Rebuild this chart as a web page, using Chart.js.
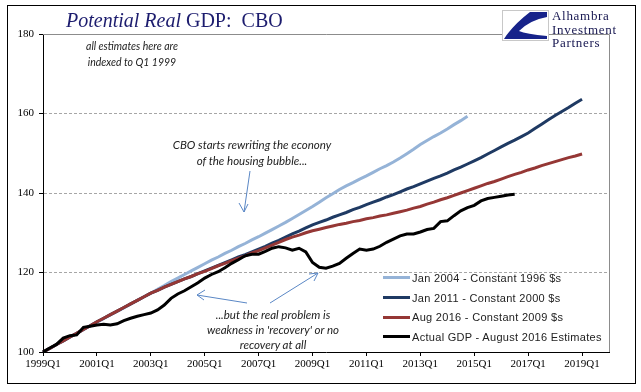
<!DOCTYPE html>
<html>
<head>
<meta charset="utf-8">
<script src="https://cdn.jsdelivr.net/npm/chart.js@4/dist/chart.umd.min.js"></script>
<style>
  body { margin:0; background:#fff; }
  #wrap { position:relative; width:641px; height:392px; overflow:hidden; }
  #chart { position:absolute; left:0; top:0; }
  .frame { position:absolute; left:7px; top:5px; width:627px; height:377px; border:1px solid #000; pointer-events:none; }
  .title { position:absolute; left:66px; top:9px; font:20px "Liberation Serif", serif; color:#1c1c6e; white-space:nowrap; }
  .title i { margin-right:5px; }
  .note { position:absolute; font-family:Lato, sans-serif; font-style:italic; color:#222; text-align:center; white-space:nowrap; }
  .logo-text { position:absolute; left:552px; top:9px; font:13px "Liberation Serif", serif; letter-spacing:0.7px; line-height:13.5px; color:#161650; }
  .legend { position:absolute; left:383px; top:268px; font:11px "Liberation Sans", Arial, sans-serif; color:#222; letter-spacing:0.3px; }
  .legend .row { height:19.7px; display:flex; align-items:center; white-space:nowrap; }
  .legend .sw { width:27px; height:3px; margin-right:2px; }
  svg { position:absolute; left:0; top:0; }
</style>
</head>
<body>
<div id="wrap">
  <canvas id="chart" width="641" height="392"></canvas>
  <svg width="641" height="392">
    <!-- logo -->
    <rect x="502.5" y="10.5" width="46" height="30" fill="#fff" stroke="#c8c8c8"/>
    <path d="M547,12 L530,12 Q513,25 504,39 L547,39 L547,36 Q526,34 519,31 Q530,20 547,17 Z" fill="#17238a"/>
    <!-- arrows -->
    <g stroke="#5a87c5" stroke-width="1" fill="none">
      <line x1="250" y1="171" x2="244" y2="212"/>
      <polyline points="239,203 244,212 248,204"/>
      <line x1="247" y1="303" x2="197" y2="295"/>
      <polyline points="205,290 197,295 204,300"/>
      <line x1="270" y1="303" x2="318" y2="273"/>
      <polyline points="309,274 318,273 314,281"/>
    </g>
  </svg>
  <div class="frame"></div>
  <div class="title"><i>Potential Real</i>GDP:&nbsp; CBO</div>
  <div class="logo-text">Alhambra<br>Investment<br>Partners</div>
  <div class="note" style="left:72px; top:38px; width:120px; font-size:10.5px; line-height:16px;">all estimates here are<br>indexed to Q1 1999</div>
  <div class="note" style="left:152px; top:137px; width:200px; font-size:11.5px; line-height:16px;">CBO starts rewriting the econony<br>of the housing bubble...</div>
  <div class="note" style="left:173px; top:307px; width:200px; font-size:11.5px; line-height:15px;">...but the real problem is<br>weakness in 'recovery' or no<br>recovery at all</div>
  <div class="legend" id="legend"></div>
</div>
<script>
// quarters 1999Q1 .. 2020Q1
const quarters = [];
for (let y = 1999; y <= 2020; y++) for (let q = 1; q <= 4; q++) quarters.push(y + 'Q' + q);
quarters.length = 85;

const seriesNames = [
  'Jan 2004 - Constant 1996 $s',
  'Jan 2011 - Constant 2000 $s',
  'Aug 2016 - Constant 2009 $s',
  'Actual GDP - August 2016 Estimates'
];
const seriesColors = ['#95b3d7', '#1f3a63', '#953735', '#000000'];

const cbo2004 = [
  100, 100.9, 101.9, 102.8, 103.7, 104.7, 105.6, 106.6, 107.5, 108.4, 109.3, 110.2, 111.1,
  112.0, 113.0, 113.9, 114.8, 115.8, 116.7, 117.7, 118.6, 119.5, 120.4, 121.3, 122.2,
  123.1, 123.9, 124.8, 125.6, 126.5, 127.3, 128.2, 129.0, 129.9, 130.8, 131.7, 132.6,
  133.6, 134.6, 135.6, 136.6, 137.7, 138.8, 139.8, 140.9, 141.8, 142.6, 143.5, 144.3,
  145.2, 146.1, 146.9, 147.8, 148.8, 149.9, 151.0, 152.2, 153.2, 154.2, 155.1, 156.1,
  157.2, 158.2, 159.3
];
const cbo2011 = [
  100, 100.9, 101.9, 102.8, 103.8, 104.7, 105.7, 106.6, 107.6, 108.5, 109.4, 110.3, 111.2,
  112.1, 113.0, 113.9, 114.8, 115.5, 116.3, 117.0, 117.7, 118.4, 119.0, 119.7, 120.4,
  121.1, 121.8, 122.5, 123.2, 123.9, 124.5, 125.2, 125.9, 126.6, 127.4, 128.1, 128.9,
  129.7, 130.4, 131.2, 132.0, 132.6, 133.2, 133.9, 134.5, 135.1, 135.8, 136.4, 137.1,
  137.7, 138.3, 139.0, 139.6, 140.3, 141.0, 141.6, 142.3, 143.0, 143.7, 144.3, 145.0,
  145.8, 146.5, 147.3, 148.1, 148.9, 149.8, 150.7, 151.6, 152.5, 153.3, 154.2, 155.1,
  156.2, 157.3, 158.4, 159.5, 160.5, 161.5, 162.6, 163.6
];
const cbo2016 = [
  100, 100.9, 101.9, 102.8, 103.8, 104.7, 105.7, 106.6, 107.6, 108.5, 109.4, 110.3, 111.2,
  112.1, 113.0, 113.9, 114.8, 115.5, 116.3, 117.0, 117.7, 118.4, 119.0, 119.7, 120.3,
  121.0, 121.7, 122.3, 123.0, 123.6, 124.2, 124.9, 125.5, 126.2, 126.9, 127.6, 128.3,
  128.9, 129.4, 130.0, 130.5, 130.9, 131.3, 131.7, 132.1, 132.4, 132.8, 133.1, 133.5,
  133.8, 134.2, 134.5, 134.9, 135.3, 135.7, 136.2, 136.6, 137.2, 137.7, 138.3, 138.8,
  139.4, 140.0, 140.6, 141.2, 141.8, 142.4, 142.9, 143.5, 144.1, 144.7, 145.2, 145.8,
  146.3, 146.9, 147.4, 147.9, 148.4, 148.9, 149.3, 149.8
];
const actualGdp = [
  100.0, 101.0, 101.9, 103.5, 104.1, 104.3, 106.2, 106.5, 106.8, 107.0, 106.8, 107.1,
  107.9, 108.5, 109.0, 109.4, 109.8, 110.6, 111.8, 113.5, 114.6, 115.4, 116.4, 117.4,
  118.6, 119.5, 120.2, 121.2, 122.3, 123.2, 124.2, 124.6, 124.6, 125.3, 126.1, 126.5,
  126.2, 125.6, 126.1, 125.2, 122.5, 121.3, 121.1, 121.6, 122.3, 123.6, 124.8, 125.9,
  125.6, 125.9, 126.6, 127.6, 128.4, 129.2, 129.7, 129.7, 130.2, 130.8, 131.1, 132.8,
  133.0, 134.3, 135.5, 136.3, 136.9, 138.0, 138.6, 138.9, 139.2, 139.5, 139.7
];
const yTicks = [100, 120, 140, 160, 180];
const dashedLevels = [120, 140, 160];

// plot border on top and right (gray, solid)
const plotBorder = {
  id: 'plotBorder',
  beforeDatasetsDraw(chart) {
    const { ctx, chartArea: a } = chart;
    ctx.save();
    ctx.strokeStyle = '#8c8c8c';
    ctx.lineWidth = 1;
    ctx.beginPath();
    ctx.moveTo(a.left, Math.round(a.top) + 0.5);
    ctx.lineTo(Math.round(a.right) + 0.5, Math.round(a.top) + 0.5);
    ctx.lineTo(Math.round(a.right) + 0.5, a.bottom);
    ctx.stroke();
    ctx.restore();
  }
};

const allSeries = [cbo2004, cbo2011, cbo2016, actualGdp];
const datasets = allSeries.map((d, i) => ({
  label: seriesNames[i],
  data: d,
  borderColor: seriesColors[i],
  backgroundColor: seriesColors[i],
  borderWidth: 3,
  pointRadius: 0,
  tension: 0,
  order: 3 - i
}));

new Chart(document.getElementById('chart').getContext('2d'), {
  type: 'line',
  data: { labels: quarters, datasets },
  options: {
    responsive: false,
    animation: false,
    layout: { padding: { left: 0, top: 34, right: 32, bottom: 0 } },
    plugins: { legend: { display: false }, tooltip: { enabled: false } },
    scales: {
      x: {
        type: 'category',
        offset: false,
        afterFit: s => { s.height = 40; },
        grid: {
          drawOnChartArea: false,
          tickLength: 4,
          color: c => (c.index % 8 === 0 ? '#000' : 'rgba(0,0,0,0)')
        },
        border: { color: '#000', width: 1 },
        ticks: {
          autoSkip: false,
          maxRotation: 0,
          minRotation: 0,
          padding: 2,
          color: '#000',
          font: { family: '"Liberation Serif", serif', size: 11 },
          callback: (v, i) => (i % 8 === 0 ? quarters[i] : '')
        }
      },
      y: {
        min: 100,
        max: 180,
        afterFit: s => { s.width = 43; },
        afterBuildTicks: s => { s.ticks = yTicks.map(v => ({ value: v })); },
        grid: {
          tickLength: 4,
          tickColor: '#000',
          color: c => (dashedLevels.includes(c.tick && c.tick.value) ? '#a6a6a6' : 'rgba(0,0,0,0)')
        },
        border: { color: '#000', width: 1, dash: [3, 2] },
        ticks: {
          padding: 5,
          color: '#000',
          font: { family: '"Liberation Serif", serif', size: 11 }
        }
      }
    }
  },
  plugins: [plotBorder]
});

// legend
const legend = document.getElementById('legend');
seriesNames.forEach((name, i) => {
  const row = document.createElement('div');
  row.className = 'row';
  row.innerHTML = `<span class="sw" style="background:${seriesColors[i]}"></span><span>${name}</span>`;
  legend.appendChild(row);
});
</script>
</body>
</html>
